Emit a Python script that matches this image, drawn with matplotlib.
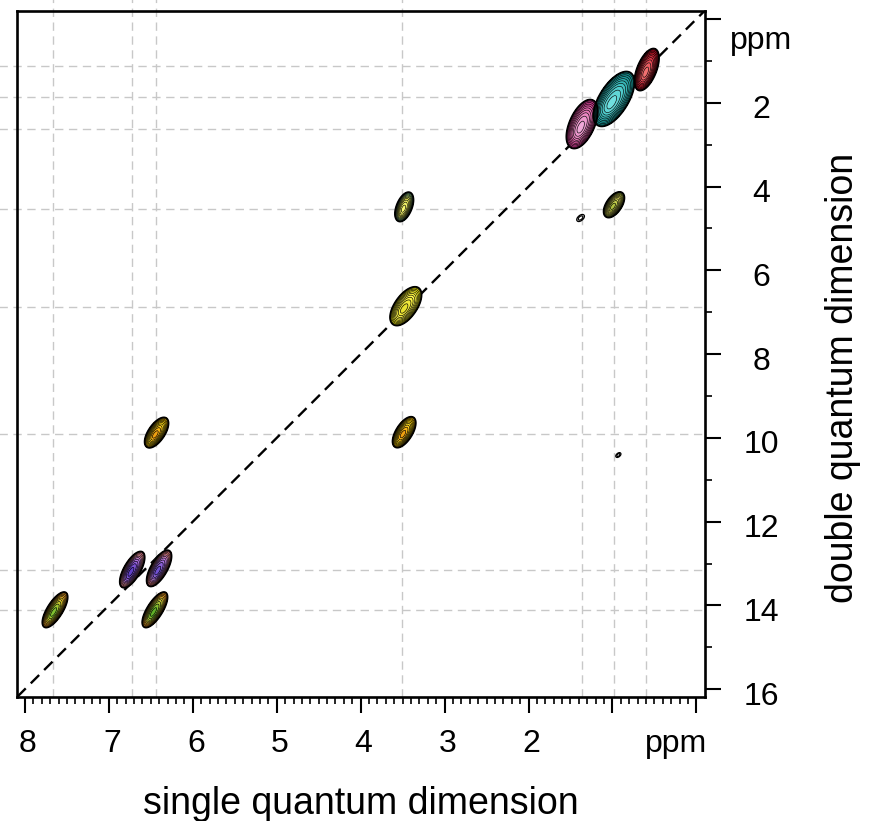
import numpy as np
import matplotlib
matplotlib.use("Agg")
import matplotlib.pyplot as plt
from matplotlib.colors import LinearSegmentedColormap
from matplotlib.transforms import blended_transform_factory, ScaledTranslation

plt.rcParams['font.family'] = ['Liberation Sans', 'DejaVu Sans']

# cross peaks: single quantum shift, double quantum shift (ppm)
peak_sq = [7.64, 6.72, 6.40, 6.45, 6.43, 3.48, 3.46, 3.48, 0.98, 1.36, 0.98, 0.59]
peak_dq = [14.10, 13.14, 13.11, 14.10, 9.87, 9.86, 6.85, 4.48, 4.43, 2.50, 1.90, 1.20]
# size of the lowest contour (half length / half width, px) and tilt (deg)
peak_len = [21, 21, 21, 21, 18, 18, 23, 16, 15, 27, 32, 23]
peak_wid = [8, 8.5, 8.5, 8, 8.5, 8.5, 11.5, 8, 8, 13, 15, 10]
peak_tilt = [58, 60, 60, 58, 56, 58, 55, 68, 56, 66, 58, 68]
peak_colors = [
    ['#e08a18', '#f0a828', '#e8d030', '#80c030'],
    ['#e87890', '#f098a0', '#b070e0', '#6040c8'],
    ['#e07080', '#f08888', '#c080e0', '#7050d0'],
    ['#e08a18', '#f8a828', '#d0d040', '#60b028'],
    ['#f0b000', '#f8c800', '#ffe020', '#f0a010'],
    ['#f0b000', '#f8c800', '#ffe020', '#f0a010'],
    ['#e0d800', '#f0ec20', '#fff850', '#e8e030'],
    ['#50b098', '#a0d080', '#f0f058', '#f8f870'],
    ['#88b848', '#d0d848', '#f0e868', '#b0c040'],
    ['#b82880', '#d84898', '#e878b8', '#f0a8d8'],
    ['#10807f', '#20a0a0', '#40c0c0', '#70e0e0'],
    ['#900018', '#c01828', '#e03848', '#f07070'],
]
# weak peaks drawn as a single outline
weak_sq = [1.38, 0.93]
weak_dq = [4.75, 10.41]
weak_len = [4.5, 3.0]
weak_wid = [2.6, 1.8]

# guide lines
guide_sq = [7.67, 6.73, 6.44, 3.51, 1.36, 0.98, 0.60]
guide_dq = [1.13, 1.86, 2.62, 4.53, 6.88, 9.90, 13.16, 14.10]

xlim = (8.09, -0.10)
ylim = (16.18, -0.20)

fig = plt.figure(figsize=(8.7, 8.21), dpi=100)
ax = fig.add_axes([0.0200, 0.1514, 0.7901, 0.8356])
ax.set_xlim(*xlim)
ax.set_ylim(*ylim)

# pixels per ppm
kx = 0.7901 * 870 / (xlim[0] - xlim[1])
ky = 0.8356 * 821 / (ylim[0] - ylim[1])


def peak_field(sq0, dq0, half_len, half_wid, tilt, skew=True):
    sq = np.linspace(sq0 - 0.5, sq0 + 0.5, 161)
    dq = np.linspace(dq0 - 1.0, dq0 + 1.0, 161)
    S, D = np.meshgrid(sq, dq)
    du = (sq0 - S) * kx
    dv = (dq0 - D) * ky
    t = np.radians(tilt)
    along = du * np.cos(t) + dv * np.sin(t)
    across = -du * np.sin(t) + dv * np.cos(t)
    sa = half_len / 2.54
    sb = half_wid / 2.54
    z = np.exp(-0.5 * ((along / sa) ** 2 + (across / sb) ** 2))
    if skew:
        z = z + 0.45 * np.exp(-0.5 * (((along + 0.3 * half_len) / (0.6 * sa)) ** 2
                                      + (across / (0.75 * sb)) ** 2))
    return S, D, z / z.max()


levels = list(0.04 * 1.4 ** np.arange(10)) + [1.01]

for i in range(len(peak_sq)):
    S, D, z = peak_field(peak_sq[i], peak_dq[i], peak_len[i], peak_wid[i], peak_tilt[i])
    cmap = LinearSegmentedColormap.from_list('pk', peak_colors[i])
    n = len(levels) - 1
    cols = [cmap(k / (n - 1)) for k in range(n)]
    ax.contourf(S, D, z, levels=levels, colors=cols, zorder=3)
    ax.contour(S, D, z, levels=levels[:-1], colors='k', linewidths=0.45, zorder=4)
    ax.contour(S, D, z, levels=levels[:1], colors='k', linewidths=1.3, zorder=4)

for i in range(len(weak_sq)):
    S, D, z = peak_field(weak_sq[i], weak_dq[i], weak_len[i], weak_wid[i], 40, skew=False)
    ax.contour(S, D, z, levels=[0.04, 0.3], colors='k', linewidths=0.9, zorder=4)

# DQ diagonal
diag_x = np.array(xlim)
ax.plot(diag_x, 2 * diag_x, color='k', lw=1.7, ls=(0, (5, 3)), zorder=2)

# dashed guides, reaching out of the frame
tv = blended_transform_factory(ax.transData, ax.transAxes)
for x in guide_sq:
    ax.plot([x, x], [0, 1.02], transform=tv, color='#c8c8c8', lw=1.0,
            ls=(0, (6, 4)), clip_on=False, zorder=1)
th = blended_transform_factory(ax.transAxes, ax.transData)
for y in guide_dq:
    ax.plot([-0.03, 1], [y, y], transform=th, color='#c8c8c8', lw=1.0,
            ls=(0, (6, 4)), clip_on=False, zorder=1)

for s in ax.spines.values():
    s.set_linewidth(1.9)

ax.set_xticks(np.arange(0, 9, 1))
ax.set_xticks(np.arange(0, 8.05, 0.1), minor=True)
ax.set_xticklabels(['', '', '2', '3', '4', '5', '6', '7', '8'])
ax.yaxis.tick_right()
ax.set_yticks(np.arange(0, 17, 2))
ax.set_yticks(np.arange(1, 16, 2), minor=True)
ax.set_yticklabels(['ppm'] + [str(v) for v in range(2, 17, 2)])
ax.tick_params(which='major', direction='out', length=11.5, width=1.5, labelsize=23)
ax.tick_params(which='minor', direction='out', length=5, width=1.2)
ax.tick_params(axis='x', pad=12)
ax.tick_params(axis='y', pad=29)
for k, lab in enumerate(ax.get_yticklabels()):
    lab.set_horizontalalignment('center')
    dy = -18 if k == 0 else -4
    lab.set_transform(lab.get_transform() + ScaledTranslation(0, dy / 100, fig.dpi_scale_trans))
for lab in ax.get_xticklabels():
    lab.set_transform(lab.get_transform() + ScaledTranslation(3 / 100, 0, fig.dpi_scale_trans))

ax.annotate('ppm', xy=(1, 0), xycoords='axes fraction', xytext=(2, -23),
            textcoords='offset points', ha='right', va='top', fontsize=23)

ax.set_xlabel('single quantum dimension', fontsize=27)
ax.xaxis.set_label_coords(0.5, -0.13)
ax.yaxis.set_label_position('right')
ax.set_ylabel('double quantum dimension', fontsize=27)
ax.yaxis.set_label_coords(1.175, 0.4646)

fig.savefig('out.png', dpi=100)
